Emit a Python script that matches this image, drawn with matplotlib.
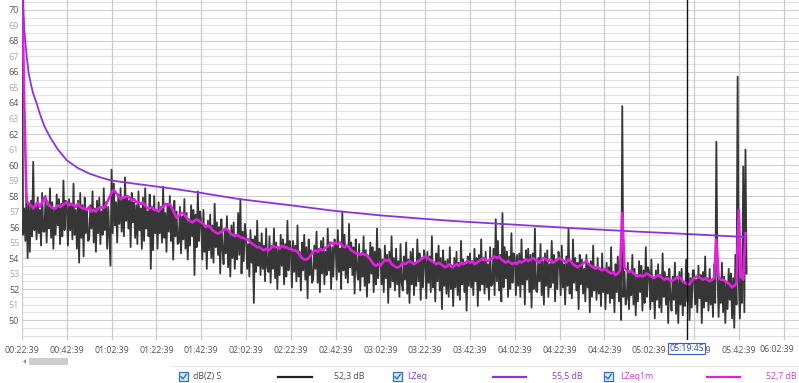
import numpy as np
import matplotlib
matplotlib.use('Agg')
import matplotlib.pyplot as plt
from matplotlib.lines import Line2D
from matplotlib.patches import Rectangle, Polygon

plt.rcParams['font.family'] = ['Open Sans', 'DejaVu Sans']

# time axis: minutes after 00:22:39
tick_minutes = list(range(0, 341, 20))
tick_labels = ['00:22:39', '00:42:39', '01:02:39', '01:22:39', '01:42:39', '02:02:39',
               '02:22:39', '02:42:39', '03:02:39', '03:22:39', '03:42:39', '04:02:39',
               '04:22:39', '04:42:39', '05:02:39', '05:22:39', '05:42:39', '06:02:39']
cursor_minute = 297.1
cursor_label = '05:19:45'

# dB(Z) S, one value every 30 s (one row = 10 minutes)
dbz_step = 0.5
dbz_s = [
    72.0, 55.5, 57.2, 55.1, 58.1, 54.0, 57.5, 54.4, 57.7, 55.4, 60.2, 55.8, 57.3, 55.2, 57.9, 55.6, 57.1, 54.8, 58.2, 55.7,
    55.7, 58.0, 55.0, 57.4, 55.9, 58.5, 55.3, 57.6, 54.6, 57.2, 55.5, 58.1, 56.1, 57.8, 54.9, 57.5, 55.4, 59.0, 55.8, 57.7,
    57.3, 54.8, 57.8, 55.8, 57.5, 55.2, 58.8, 55.5, 57.1, 54.6, 57.7, 53.7, 58.2, 55.3, 57.4, 54.1, 57.9, 55.6, 57.2, 55.1,
    55.2, 57.4, 55.9, 58.3, 55.0, 57.2, 54.4, 57.7, 55.6, 57.9, 54.9, 57.0, 55.5, 58.5, 55.8, 57.6, 54.6, 57.3, 55.4, 53.5,
    59.7, 55.6, 58.8, 56.1, 57.6, 55.0, 58.1, 56.2, 58.5, 55.7, 57.8, 55.4, 59.2, 56.4, 58.0, 55.9, 57.7, 54.7, 58.2, 56.3,
    57.6, 55.3, 57.4, 54.9, 58.3, 55.8, 57.2, 54.6, 57.9, 55.1, 58.5, 55.9, 57.0, 55.4, 58.1, 53.3, 57.3, 54.5, 58.0, 55.6,
    57.1, 54.6, 57.6, 55.6, 57.3, 55.0, 58.6, 55.3, 56.9, 54.4, 57.5, 55.7, 58.0, 55.1, 57.2, 53.9, 57.7, 55.4, 57.0, 54.9,
    55.0, 57.3, 54.3, 56.7, 55.2, 57.8, 54.6, 56.9, 53.9, 56.5, 54.8, 57.4, 55.4, 57.1, 52.9, 56.8, 54.7, 58.3, 55.1, 57.0,
    56.3, 53.9, 57.1, 54.4, 55.9, 53.3, 56.4, 54.5, 56.8, 54.0, 56.1, 53.7, 57.5, 54.7, 56.3, 54.2, 56.0, 53.0, 56.5, 54.6,
    53.6, 55.8, 54.3, 56.7, 53.4, 55.6, 52.8, 56.1, 54.0, 56.3, 53.3, 55.4, 53.9, 56.9, 54.2, 57.8, 53.0, 55.7, 53.8, 56.2,
    55.5, 53.3, 54.9, 52.8, 55.8, 53.7, 55.2, 51.1, 55.4, 53.1, 56.4, 53.5, 55.0, 52.9, 55.6, 53.3, 54.8, 52.5, 55.9, 53.4,
    53.1, 55.4, 52.4, 54.8, 53.3, 55.9, 52.7, 55.0, 52.0, 54.6, 52.9, 55.5, 53.5, 55.2, 52.3, 54.9, 52.8, 56.4, 53.2, 55.1,
    54.6, 52.1, 55.1, 53.1, 54.8, 52.5, 56.1, 52.8, 54.4, 51.9, 55.0, 53.2, 55.5, 52.6, 54.7, 51.4, 55.2, 52.9, 54.5, 52.4,
    52.6, 54.8, 53.3, 55.7, 52.4, 54.6, 51.8, 55.1, 53.0, 55.3, 52.3, 54.4, 52.9, 55.9, 53.2, 55.0, 52.0, 54.7, 52.8, 55.2,
    55.0, 52.6, 55.8, 53.1, 54.6, 52.0, 57.0, 53.2, 55.5, 52.7, 54.8, 52.4, 56.2, 53.4, 55.0, 52.9, 54.7, 51.7, 55.2, 53.3,
    52.6, 54.9, 51.9, 54.3, 52.8, 55.4, 52.2, 54.5, 51.5, 54.1, 52.4, 55.0, 53.0, 54.7, 51.8, 54.4, 52.3, 55.9, 52.7, 54.6,
    54.5, 52.3, 53.9, 51.8, 54.8, 52.7, 54.2, 51.1, 54.4, 52.1, 55.4, 52.5, 54.0, 51.9, 54.6, 52.3, 53.8, 51.5, 54.9, 52.4,
    51.9, 54.1, 52.6, 55.0, 51.7, 53.9, 51.1, 54.4, 52.3, 54.6, 51.6, 53.7, 52.2, 55.2, 52.5, 54.3, 51.3, 54.0, 52.1, 54.5,
    53.9, 51.4, 54.4, 52.4, 54.1, 51.8, 55.4, 52.1, 53.7, 51.2, 54.3, 52.5, 54.8, 51.9, 54.0, 50.7, 54.5, 52.2, 53.8, 51.7,
    53.9, 51.5, 54.7, 52.0, 53.5, 50.9, 54.0, 52.1, 54.4, 51.6, 53.7, 51.3, 55.1, 52.3, 53.9, 51.8, 53.6, 50.6, 54.1, 52.2,
    54.3, 52.1, 53.7, 51.6, 54.6, 52.5, 54.0, 50.9, 54.2, 51.9, 55.2, 52.3, 53.8, 51.7, 54.4, 52.1, 53.6, 51.3, 54.7, 52.2,
    52.3, 54.6, 51.6, 56.5, 52.5, 55.1, 51.9, 54.2, 51.2, 56.9, 52.1, 54.7, 52.7, 54.4, 51.5, 54.1, 52.0, 55.6, 52.4, 54.3,
    54.0, 51.6, 54.2, 52.2, 54.3, 51.5, 55.2, 52.3, 53.9, 51.0, 54.5, 52.6, 54.6, 51.8, 54.2, 50.8, 54.3, 52.0, 55.9, 51.9,
    51.8, 54.0, 52.5, 54.9, 51.6, 53.8, 51.0, 54.3, 52.2, 54.5, 51.5, 53.6, 52.1, 55.1, 52.4, 54.2, 51.2, 53.9, 52.0, 54.4,
    54.0, 51.6, 54.8, 52.1, 53.6, 51.0, 54.1, 52.2, 55.9, 51.7, 53.8, 51.4, 55.2, 52.4, 54.0, 51.9, 53.7, 50.7, 54.2, 52.3,
    53.9, 51.7, 53.3, 51.2, 54.2, 52.1, 53.6, 50.5, 53.8, 51.5, 54.8, 51.9, 53.4, 51.3, 54.0, 51.7, 53.2, 50.9, 54.3, 51.8,
    53.2, 50.7, 53.7, 51.7, 53.4, 51.1, 54.7, 51.4, 53.0, 50.5, 53.6, 51.8, 54.1, 51.2, 53.3, 50.0, 63.8, 51.5, 53.1, 51.0,
    51.4, 53.7, 50.7, 53.1, 51.6, 54.2, 51.0, 53.3, 50.3, 52.9, 51.2, 53.8, 51.8, 53.5, 50.6, 53.2, 51.1, 54.7, 51.5, 53.4,
    53.1, 50.7, 53.9, 51.2, 52.7, 50.1, 53.2, 51.3, 53.6, 50.8, 52.9, 50.5, 54.3, 51.5, 53.1, 51.0, 52.8, 49.8, 53.3, 51.4,
    50.6, 52.8, 51.3, 53.7, 50.4, 52.6, 49.8, 53.1, 51.0, 53.3, 50.3, 52.4, 50.9, 53.9, 51.2, 53.0, 50.0, 52.7, 50.8, 53.2,
    53.2, 51.0, 52.6, 50.5, 53.5, 51.4, 52.9, 49.8, 53.1, 50.8, 54.1, 51.2, 52.7, 50.6, 53.3, 51.0, 52.5, 50.2, 53.6, 51.1,
    61.5, 53.2, 50.2, 52.6, 51.1, 53.7, 50.5, 52.8, 49.8, 52.4, 50.7, 53.3, 51.3, 53.0, 50.1, 52.7, 49.5, 54.2, 51.0, 65.7,
    52.6, 50.1, 53.1, 51.1, 59.9, 50.5, 61.0, 53.0,
]

# LZeq1m, one value per minute
lzeq1m = [
    72.0, 64.0, 57.7, 57.5, 57.4, 57.2, 57.4, 57.6, 57.3, 57.6, 57.9, 57.7, 57.4, 57.3, 57.2, 57.2, 57.4, 57.3, 57.4, 57.5,
    57.6, 57.4, 57.5, 57.4, 57.3, 57.5, 57.3, 57.2, 57.2, 57.1, 57.3, 57.0, 57.1, 57.0, 57.2, 57.3, 57.2, 57.3, 57.6, 57.9,
    58.2, 58.4, 58.2, 58.0, 57.8, 57.9, 57.9, 58.0, 57.9, 57.7, 57.8, 57.6, 57.6, 57.5, 57.6, 57.4, 57.2, 57.2, 57.3, 57.1,
    57.1, 57.0, 57.2, 57.3, 57.5, 57.4, 57.5, 57.2, 56.9, 56.6, 56.7, 56.9, 56.9, 56.7, 56.5, 56.4, 56.3, 56.4, 56.5, 56.4,
    56.3, 56.2, 56.0, 56.1, 56.0, 55.8, 55.7, 55.6, 55.6, 55.7, 55.8, 55.9, 55.8, 55.6, 55.5, 55.4, 55.5, 55.4, 55.3, 55.3,
    55.2, 55.2, 55.0, 54.9, 54.8, 54.7, 54.7, 54.6, 54.5, 54.6, 54.5, 54.6, 54.8, 54.7, 54.7, 54.6, 54.8, 54.7, 54.7, 54.6,
    54.6, 54.5, 54.5, 54.4, 54.2, 54.0, 53.9, 53.9, 54.0, 54.2, 54.4, 54.5, 54.4, 54.6, 54.5, 54.6, 54.7, 54.8, 55.0, 54.9,
    55.0, 54.9, 55.0, 54.8, 54.7, 54.8, 54.7, 54.5, 54.4, 54.3, 54.3, 54.2, 54.3, 54.2, 54.2, 54.0, 53.8, 53.6, 53.5, 53.6,
    53.5, 53.7, 53.9, 53.8, 53.9, 53.6, 53.5, 53.4, 53.4, 53.5, 53.7, 53.6, 53.7, 53.8, 53.7, 53.6, 53.7, 53.8, 53.9, 54.0,
    54.1, 54.0, 53.9, 53.8, 53.7, 53.6, 53.7, 53.6, 53.5, 53.4, 53.5, 53.6, 53.4, 53.5, 53.6, 53.5, 53.7, 53.6, 53.7, 53.8,
    53.7, 53.8, 53.6, 53.7, 53.8, 53.9, 54.0, 53.9, 53.8, 53.9, 54.0, 54.1, 54.0, 54.1, 53.9, 53.8, 53.7, 53.8, 53.7, 53.6,
    53.7, 53.6, 53.8, 53.7, 53.8, 53.9, 53.8, 53.9, 54.0, 53.9, 53.8, 53.7, 53.9, 54.0, 53.9, 53.8, 53.9, 53.7, 53.8, 53.9,
    54.0, 53.9, 53.8, 53.7, 53.9, 53.8, 53.6, 53.5, 53.4, 53.5, 53.6, 53.7, 53.8, 53.6, 53.5, 53.4, 53.3, 53.4, 53.3, 53.2,
    53.3, 53.2, 53.1, 53.0, 53.1, 52.9, 53.0, 53.2, 56.9, 53.4, 53.2, 53.1, 53.2, 53.0, 52.9, 52.8, 52.9, 52.8, 52.9, 53.0,
    52.9, 52.8, 52.7, 52.8, 52.9, 52.8, 52.7, 52.6, 52.7, 52.6, 52.5, 52.6, 52.7, 52.8, 52.7, 52.5, 52.4, 52.3, 52.3, 52.5,
    52.7, 52.8, 52.8, 52.7, 52.6, 52.7, 52.6, 52.5, 52.6, 52.7, 55.2, 52.8, 52.6, 52.6, 52.5, 52.4, 52.3, 52.1, 52.2, 52.4,
    57.1, 52.8, 52.6, 55.6,
]

# LZeq (running average)
lzeq_minutes = [0.3, 0.6, 1.0, 1.5, 2.1, 3.0, 4.0, 5.0, 6.5, 8.0, 10.0, 12.5, 16.0, 20.0, 25.0, 30.0,
                35.0, 40.0, 50.0, 66.0, 80.0, 97.0, 120.0, 139.0, 160.0, 191.0, 220.0, 249.0, 275.0, 297.0, 323.0]
lzeq = [73.0, 70.2, 68.8, 67.9, 67.0, 65.9, 65.2, 64.6, 64.0, 63.3, 62.5, 61.8, 61.0, 60.3, 59.8, 59.45,
        59.2, 59.0, 58.8, 58.5, 58.2, 57.8, 57.4, 57.05, 56.75, 56.4, 56.15, 55.9, 55.7, 55.55, 55.35]

legend_names = ['dB(Z) S', 'LZeq', 'LZeq1m']
legend_values = ['52,3 dB', '55,5 dB', '52,7 dB']

W, H = 799, 383
GRAY_DARK = '#363636'
PURPLE = '#8a35dc'
MAGENTA = '#e020e0'


def px(x, y):
    return x / W, 1 - y / H


fig = plt.figure(figsize=(W / 100, H / 100), dpi=100)
fig.patch.set_facecolor('white')
ax = fig.add_axes([22 / W, 1 - 340 / H, 1 - 22 / W, 340 / H])

ax.plot(np.arange(len(dbz_s)) * dbz_step, dbz_s, color=GRAY_DARK, lw=1.3, zorder=3)
ax.plot(np.arange(len(lzeq1m)), lzeq1m, color=MAGENTA, lw=1.9, zorder=4)
ax.plot(lzeq_minutes, lzeq, color=PURPLE, lw=1.3, zorder=5)
ax.axvline(cursor_minute, color='#111111', lw=1.0, zorder=6)

ax.set_xlim(0, 346.9)
ax.set_ylim(48.71, 70.645)

# grid
for v in np.arange(48.5, 71, 0.5):
    c = '#cfcfcf' if (v % 2 == 0) else '#e2e2e2'
    ax.axhline(v, color=c, lw=0.8, zorder=1)
for m in tick_minutes:
    ax.axvline(m, color='#cccccc', lw=0.9, zorder=1)

# the last time label is pushed left so it stays inside the window
ax.set_xticks(tick_minutes)
ax.set_xticklabels(tick_labels[:-1] + [''], fontsize=6.3, color='#555555')
fig.text(*px(777, 349), tick_labels[-1], ha='center', va='center', fontsize=6.3, color='#555555')
ax.set_yticks(range(50, 71))
ax.set_yticklabels([str(v) for v in range(50, 71)], fontsize=6.5)
for lab, v in zip(ax.get_yticklabels(), range(50, 71)):
    lab.set_color('#555555' if v % 2 == 0 else '#aaaaaa')
ax.tick_params(axis='both', length=0)
ax.tick_params(axis='x', pad=4)
ax.tick_params(axis='y', pad=2)
for s in ax.spines.values():
    s.set_visible(False)

# cursor time box
fig.text(*px(686.5, 348.5), cursor_label, ha='center', va='center', fontsize=6.3,
         color='#2a46b8', zorder=10,
         bbox=dict(boxstyle='square,pad=0.15', facecolor='white', edgecolor='#3a5bd0', lw=0.8))

# scrollbar
fig.patches.append(Rectangle(px(29, 365), 39 / W, 7 / H, transform=fig.transFigure,
                             facecolor='#cdcdcd', edgecolor='none'))
fig.patches.append(Polygon([px(23, 361.5), px(26, 359.3), px(26, 363.7)], closed=True,
                           transform=fig.transFigure, facecolor='#888888', edgecolor='none'))

# legend panel
fig.lines.append(Line2D([172 / W, 1], [1 - 366 / H] * 2, transform=fig.transFigure,
                        color='#e4e4e4', lw=0.8))

legend_layout = [
    # checkbox x, name x, line x0, line x1, value right x, line colour, text colour
    (179, 193, 278, 312, 364, '#222222', '#4a4a4a'),
    (393, 407, 493, 526, 583, PURPLE, '#7a3fd0'),
    (604, 620, 707, 740, 797, MAGENTA, '#cf3fcf'),
]
ly = 376.5
for (cb, nx, l0, l1, vx, lc, tc), name, val in zip(legend_layout, legend_names, legend_values):
    fig.patches.append(Rectangle(px(cb, ly + 4.5), 9 / W, 9 / H, transform=fig.transFigure,
                                 facecolor='#dceaf8', edgecolor='#2f6fc4', lw=0.9))
    fig.lines.append(Line2D([(cb + 2) / W, (cb + 4) / W, (cb + 7.3) / W],
                            [1 - (ly + 0.2) / H, 1 - (ly + 2.4) / H, 1 - (ly - 2.2) / H],
                            transform=fig.transFigure, color='#2f6fc4', lw=1.0))
    fig.text(*px(nx, ly), name, ha='left', va='center', fontsize=6.3, color=tc)
    fig.lines.append(Line2D([l0 / W, l1 / W], [1 - ly / H] * 2, transform=fig.transFigure,
                            color=lc, lw=1.6))
    fig.text(*px(vx, ly), val, ha='right', va='center', fontsize=6.3, color=tc)

fig.savefig('out.png', dpi=100)
